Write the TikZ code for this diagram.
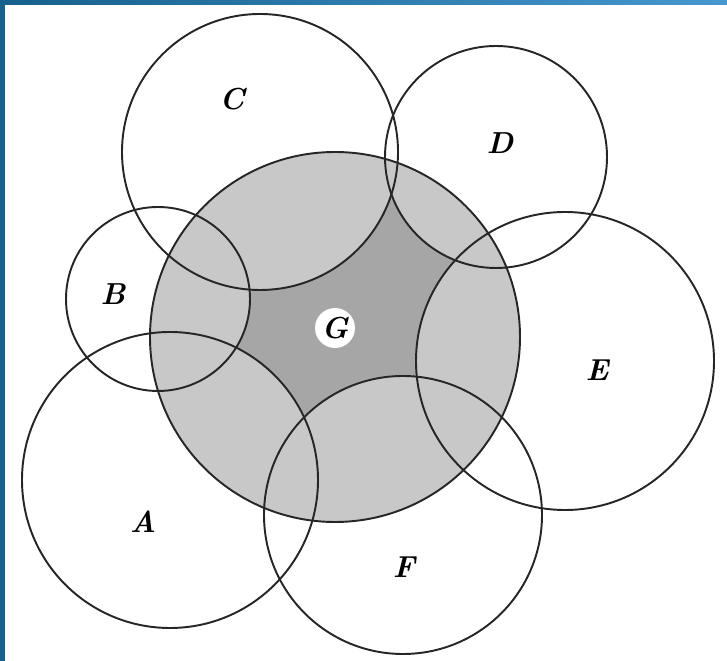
\documentclass[tikz,border=0pt]{standalone}
\usetikzlibrary{positioning}
\definecolor{frameblue}{RGB}{22,96,140}
\definecolor{framelight}{RGB}{70,152,206}
\definecolor{lightshade}{RGB}{200,200,200}
\definecolor{darkshade}{RGB}{166,166,166}
\tikzset{
  setlabel/.style={font=\LARGE\bfseries\itshape},
  ring/.style={black!85,line width=1.1pt}
}

\begin{document}
\begin{tikzpicture}[x=0.02cm,y=-0.02cm]
	\useasboundingbox (0,0) rectangle (727,661);
	% frame
	\fill[left color=frameblue,right color=framelight] (0,0) rectangle (727,5);
	\fill[frameblue] (0,0) rectangle (5,661);
	% shaded set G
	\fill[darkshade] (335,337) circle[radius=3.7cm];
	\begin{scope}
		\clip (335,337) circle[radius=3.7cm];
		\foreach \x/\y/\r in {170/480/148,158/299/92,260/152/138,496/157/111,565/361/149,403/515/139}
			\fill[lightshade] (\x,\y) circle[radius={\r*0.02cm}];
	\end{scope}
	% outlines
	\foreach \x/\y/\r in {170/480/148,158/299/92,260/152/138,496/157/111,565/361/149,403/515/139,335/337/185}
		\draw[ring] (\x,\y) circle[radius={\r*0.02cm}];
	% labels
	\node[setlabel] (lA) at (143,522) {A};
	\node[setlabel] (lB) at (113,294) {B};
	\node[setlabel] (lC) at (232,99) {C};
	\node[setlabel] (lD) at (500,143) {D};
	\node[setlabel] (lE) at (597,370) {E};
	\node[setlabel] (lF) at (404,567) {F};
	\node[setlabel,circle,fill=white,inner sep=0pt,minimum size=0.8cm] (lG) at (335,328) {G};
\end{tikzpicture}
\end{document}
